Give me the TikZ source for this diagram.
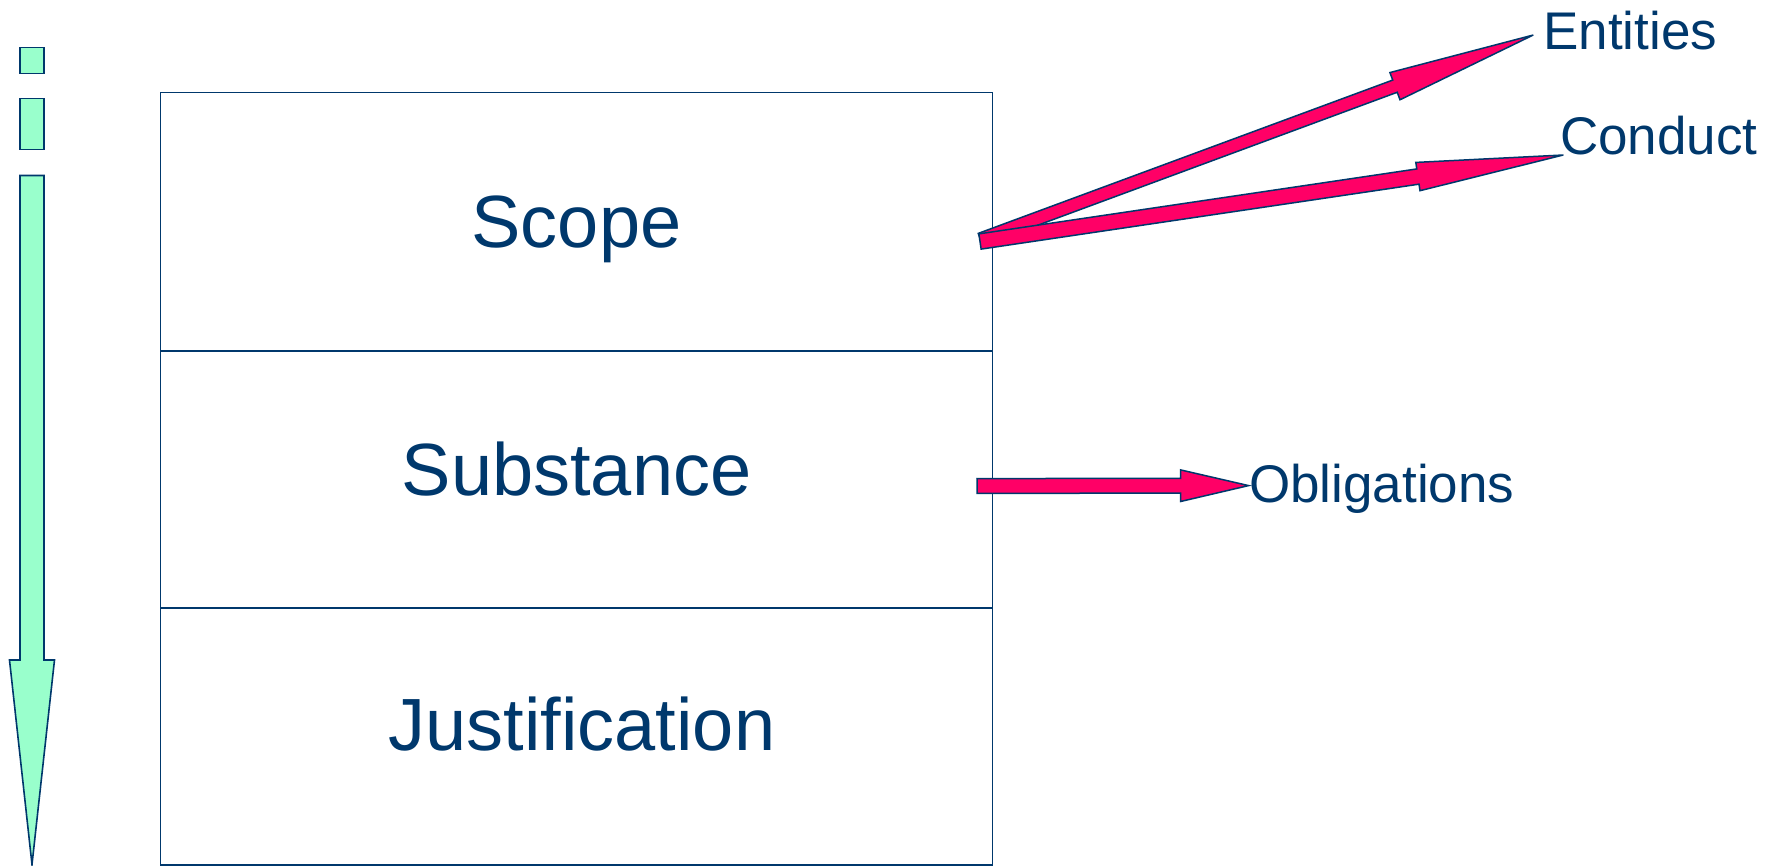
\documentclass[tikz,border=0pt]{standalone}
\usepackage{fontspec}
\setmainfont{Liberation Sans}
\usetikzlibrary{calc}
\definecolor{navy}{RGB}{0,56,108}
\definecolor{pinkfill}{RGB}{255,0,102}
\definecolor{mint}{RGB}{153,255,204}
% #1 style, #2 tail, #3 tip, #4 shaft half width, #5 head half width, #6 head length
\newcommand\blockarr[6]{%
  \coordinate (#2-#3-h) at ($(#3)!#6!(#2)$);
  \draw[#1] ($(#2)!#4!90:(#3)$) -- ($(#2-#3-h)!#4!-90:(#2)$) -- ($(#2-#3-h)!#5!-90:(#2)$)
    -- (#3) -- ($(#2-#3-h)!#5!90:(#2)$) -- ($(#2-#3-h)!#4!90:(#2)$) -- ($(#2)!#4!-90:(#3)$) -- cycle;
}
\begin{document}
\begin{tikzpicture}[x=1pt,y=-1pt,
  cell/.style={draw=navy,line width=1.3pt},
  big/.style={text=navy,font=\fontsize{74}{74}\selectfont,inner sep=0,anchor=base},
  small/.style={text=navy,font=\fontsize{53}{53}\selectfont,inner sep=0,anchor=base west},
  pinkarrow/.style={fill=pinkfill,draw=navy,line width=1.5pt,line join=miter},
  greenbar/.style={fill=mint,draw=navy,line width=1.6pt,line join=miter}]
\useasboundingbox (0,0) rectangle (1775,866);

% green dashed arrow on the left
\draw[greenbar] (20,47.5) rectangle (44,73.6);
\draw[greenbar] (20,98.5) rectangle (44,149.4);
\draw[greenbar] (20,175.5) -- (44,175.5) -- (44,660) -- (54.5,660) -- (32,864.5) -- (9.5,660) -- (20,660) -- cycle;

% stacked boxes
\draw[cell] (160.7,92.8) rectangle (992.8,351);
\draw[cell] (160.7,351) rectangle (992.8,608);
\draw[cell] (160.7,608) rectangle (992.8,865);

\node[big] (scope) at (576.5,248) {Scope};
\node[big] (substance) at (576.5,495.5) {Substance};
\node[big] (justification) at (582,750) {Justification};

% labels
\node[small] (entities) at (1543,49.8) {Entities};
\node[small] (conduct) at (1560,155) {Conduct};
\node[small] (obligations) at (1249,502.6) {Obligations};

% arrows
\coordinate (entTail) at (980.5,239.5);
\coordinate (entTip) at (1533.3,35);
\coordinate (conTail) at (980,241.5);
\coordinate (conTip) at (1563.3,155);
\coordinate (oblTail) at (977,486);
\coordinate (oblTip) at (1248.6,485.6);

\blockarr{pinkarrow}{entTail}{entTip}{6.5pt}{14.5pt}{147.5pt}
\blockarr{pinkarrow}{conTail}{conTip}{7.7pt}{14.3pt}{147pt}
\blockarr{pinkarrow}{oblTail}{oblTip}{7.4pt}{15.8pt}{68pt}
\end{tikzpicture}
\end{document}
